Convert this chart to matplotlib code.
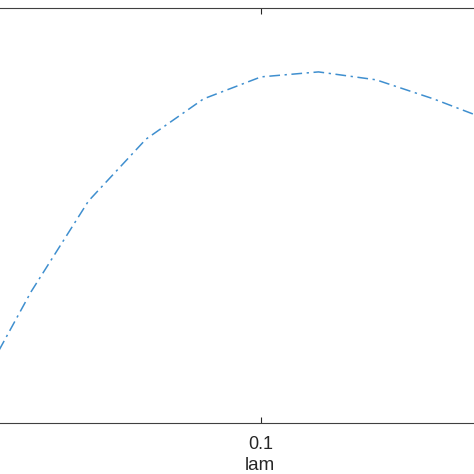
import matplotlib
matplotlib.use("Agg")
import matplotlib.pyplot as plt

# valores (eje y sin etiquetas visibles, escala relativa)
lam = [0.05, 0.06, 0.07, 0.08, 0.09, 0.10, 0.11, 0.12, 0.13, 0.14]
valor = [0.063, 0.316, 0.535, 0.684, 0.781, 0.834, 0.846, 0.827, 0.781, 0.728]
xticks = [0.1]
xticklabels = ["0.1"]

plt.rcParams["font.family"] = ["Liberation Sans", "DejaVu Sans"]

fig = plt.figure(figsize=(4.74, 4.74), dpi=100)
W = 474.0
# el grafico original esta recortado: los ejes se salen por izquierda y derecha
izq, der = -40.0, 560.0
ax = fig.add_axes([izq / W, (474 - 423) / W, (der - izq) / W, 415 / W])

ax.plot(lam, valor, color="#3f8fcf", linestyle=(0, (7, 3, 1.5, 3)), linewidth=1.1)

px_por_unidad = 5750.0
ax.set_xlim(0.1 + (izq - 261) / px_por_unidad, 0.1 + (der - 261) / px_por_unidad)
ax.set_ylim(0, 1)
ax.set_xticks(xticks)
ax.set_xticklabels(xticklabels)
ax.set_yticks([])
ax.tick_params(axis="x", direction="in", top=True, length=4, width=0.8,
               colors="#262626", labelsize=13, pad=9.5)
for s in ax.spines.values():
    s.set_color("#404040")
    s.set_linewidth(0.8)

ax.set_xlabel("lam", fontsize=13.5, color="#262626", labelpad=2.5)

fig.savefig("out.png", dpi=100)
